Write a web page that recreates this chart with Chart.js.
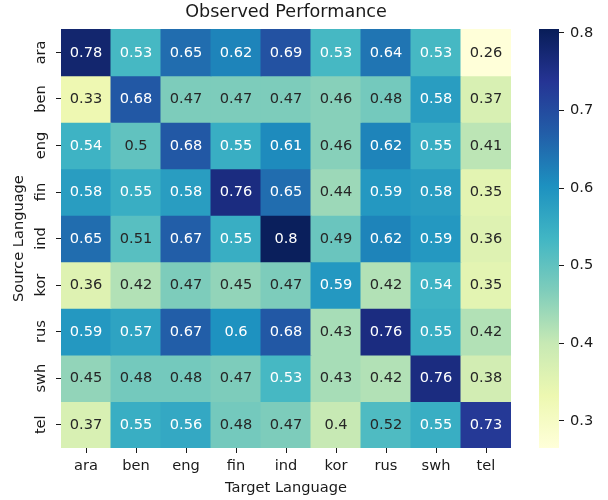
<!DOCTYPE html>
<html lang="en">
<head>
    <meta charset="UTF-8">
    <title>Observed Performance</title>
    <script src="https://cdn.jsdelivr.net/npm/chart.js"></script>
    <style>
        body { margin: 0; background: #fff; }
        #wrap { position: relative; width: 608px; height: 500px; }
        #heatmap { position: absolute; left: 0; top: 0; }
        #colorbar { position: absolute; left: 520px; top: 0; }
    </style>
</head>
<body>
<div id="wrap">
    <canvas id="heatmap" width="608" height="500"></canvas>
    <canvas id="colorbar" width="88" height="500"></canvas>
</div>
<script>
    // Languages (rows = source, columns = target)
    const targetLangs = ['ara', 'ben', 'eng', 'fin', 'ind', 'kor', 'rus', 'swh', 'tel'];
    const sourceLangs = ['ara', 'ben', 'eng', 'fin', 'ind', 'kor', 'rus', 'swh', 'tel'];

    // one array per source language
    const ara = [0.78, 0.53, 0.65, 0.62, 0.69, 0.53, 0.64, 0.53, 0.26];
    const ben = [0.33, 0.68, 0.47, 0.47, 0.47, 0.46, 0.48, 0.58, 0.37];
    const eng = [0.54, 0.50, 0.68, 0.55, 0.61, 0.46, 0.62, 0.55, 0.41];
    const fin = [0.58, 0.55, 0.58, 0.76, 0.65, 0.44, 0.59, 0.58, 0.35];
    const ind = [0.65, 0.51, 0.67, 0.55, 0.80, 0.49, 0.62, 0.59, 0.36];
    const kor = [0.36, 0.42, 0.47, 0.45, 0.47, 0.59, 0.42, 0.54, 0.35];
    const rus = [0.59, 0.57, 0.67, 0.60, 0.68, 0.43, 0.76, 0.55, 0.42];
    const swh = [0.45, 0.48, 0.48, 0.47, 0.53, 0.43, 0.42, 0.76, 0.38];
    const tel = [0.37, 0.55, 0.56, 0.48, 0.47, 0.40, 0.52, 0.55, 0.73];
    const rows = [ara, ben, eng, fin, ind, kor, rus, swh, tel];

    const colorbarTicks = [0.3, 0.4, 0.5, 0.6, 0.7, 0.8];
    const vmin = 0.265, vmax = 0.805;

    const FONT = 'DejaVu Sans';
    const TEXT = '#1a1a1a';
    const FS = 14.6;

    // YlGnBu colormap
    const ylgnbu = ['#ffffd9', '#edf8b1', '#c7e9b4', '#7fcdbb', '#41b6c4', '#1d91c0', '#225ea8', '#253494', '#081d58'];
    const hex2rgb = h => [1, 3, 5].map(i => parseInt(h.substr(i, 2), 16));
    const stops = ylgnbu.map(hex2rgb);

    function cmapRgb(v) {
        let t = (v - vmin) / (vmax - vmin);
        t = Math.max(0, Math.min(1, t));
        const pos = t * (stops.length - 1);
        const i = Math.min(Math.floor(pos), stops.length - 2);
        const f = pos - i;
        return stops[i].map((c, k) => Math.round(c + (stops[i + 1][k] - c) * f));
    }
    const cmap = v => { const c = cmapRgb(v); return `rgb(${c[0]},${c[1]},${c[2]})`; };

    // same rule seaborn uses for annotation colour
    function textColor(v) {
        const lin = cmapRgb(v).map(c => {
            c = c / 255;
            return c <= 0.03928 ? c / 12.92 : Math.pow((c + 0.055) / 1.055, 2.4);
        });
        const lum = 0.2126 * lin[0] + 0.7152 * lin[1] + 0.0722 * lin[2];
        return lum > 0.408 ? '#262626' : '#ffffff';
    }

    // each row is a dataset of floating bars spanning [i-0.5, i+0.5]
    const datasets = rows.map((vals, i) => ({
        label: sourceLangs[i],
        data: vals.map(() => [i - 0.5, i + 0.5]),
        values: vals,
        backgroundColor: vals.map(cmap),
        borderWidth: 0,
        grouped: false,
        barPercentage: 1,
        categoryPercentage: 1,
        inflateAmount: 0.5
    }));

    const annotate = {
        id: 'annotate',
        afterDatasetsDraw(chart) {
            const ctx = chart.ctx;
            ctx.save();
            ctx.font = `${FS}px "${FONT}"`;
            ctx.textAlign = 'center';
            ctx.textBaseline = 'middle';
            chart.data.datasets.forEach((ds, di) => {
                chart.getDatasetMeta(di).data.forEach((bar, j) => {
                    const p = bar.getProps(['x', 'y', 'base'], true);
                    const v = ds.values[j];
                    ctx.fillStyle = textColor(v);
                    ctx.fillText(String(v), p.x, (p.y + p.base) / 2 + 0.5);
                });
            });
            ctx.restore();
        }
    };

    new Chart(document.getElementById('heatmap'), {
        type: 'bar',
        data: { labels: targetLangs, datasets: datasets },
        plugins: [annotate],
        options: {
            responsive: false,
            animation: false,
            events: [],
            layout: { padding: { top: 0, right: 97, left: 0, bottom: 0 } },
            plugins: {
                legend: { display: false },
                tooltip: { enabled: false },
                title: {
                    display: true,
                    text: 'Observed Performance',
                    fullSize: false,
                    color: TEXT,
                    font: { family: FONT, size: 17.6, weight: 'normal' },
                    padding: { top: 2, bottom: 6 }
                }
            },
            scales: {
                x: {
                    type: 'category',
                    offset: true,
                    grid: { offset: false, drawOnChartArea: false, tickLength: 5, color: TEXT, tickWidth: 1 },
                    border: { display: false },
                    ticks: { color: TEXT, font: { family: FONT, size: FS }, padding: 4, maxRotation: 0, autoSkip: false },
                    title: {
                        display: true,
                        text: 'Target Language',
                        color: TEXT,
                        font: { family: FONT, size: FS },
                        padding: { top: 4, bottom: 3 }
                    },
                    afterFit: s => { s.height = 52; }
                },
                y: {
                    type: 'linear',
                    min: -0.5,
                    max: 8.5,
                    reverse: true,
                    afterBuildTicks: s => { s.ticks = sourceLangs.map((_, i) => ({ value: i })); },
                    grid: { drawOnChartArea: false, tickLength: 5, color: TEXT, tickWidth: 1 },
                    border: { display: false },
                    ticks: {
                        color: TEXT,
                        font: { family: FONT, size: FS },
                        minRotation: 90,
                        maxRotation: 90,
                        crossAlign: 'center',
                        padding: 0,
                        autoSkip: false,
                        callback: v => sourceLangs[v]
                    },
                    title: {
                        display: true,
                        text: 'Source Language',
                        color: TEXT,
                        font: { family: FONT, size: FS },
                        padding: { top: 10, bottom: 0 }
                    },
                    afterFit: s => { s.width = 61; }
                }
            }
        }
    });

    // colour bar: one floating bar from vmin to vmax filled with the colormap
    function barGradient(ctx) {
        const area = ctx.chart.chartArea;
        if (!area) return cmap(vmin);
        const g = ctx.chart.ctx.createLinearGradient(0, area.bottom, 0, area.top);
        ylgnbu.forEach((c, i) => g.addColorStop(i / (ylgnbu.length - 1), c));
        return g;
    }

    new Chart(document.getElementById('colorbar'), {
        type: 'bar',
        data: {
            labels: [''],
            datasets: [{
                data: [[vmin, vmax]],
                backgroundColor: barGradient,
                borderWidth: 0,
                barPercentage: 1,
                categoryPercentage: 1
            }]
        },
        options: {
            responsive: false,
            animation: false,
            events: [],
            layout: { padding: { top: 29, left: 19, bottom: 52, right: 0 } },
            plugins: { legend: { display: false }, tooltip: { enabled: false } },
            scales: {
                x: { display: false },
                y: {
                    position: 'right',
                    min: vmin,
                    max: vmax,
                    afterBuildTicks: s => { s.ticks = colorbarTicks.map(v => ({ value: v })); },
                    grid: { drawOnChartArea: false, tickLength: 5, color: TEXT, tickWidth: 1 },
                    border: { display: false },
                    ticks: { color: TEXT, font: { family: FONT, size: FS }, padding: 6, callback: v => v.toFixed(1) },
                    afterFit: s => { s.width = 49; }
                }
            }
        }
    });
</script>
</body>
</html>
